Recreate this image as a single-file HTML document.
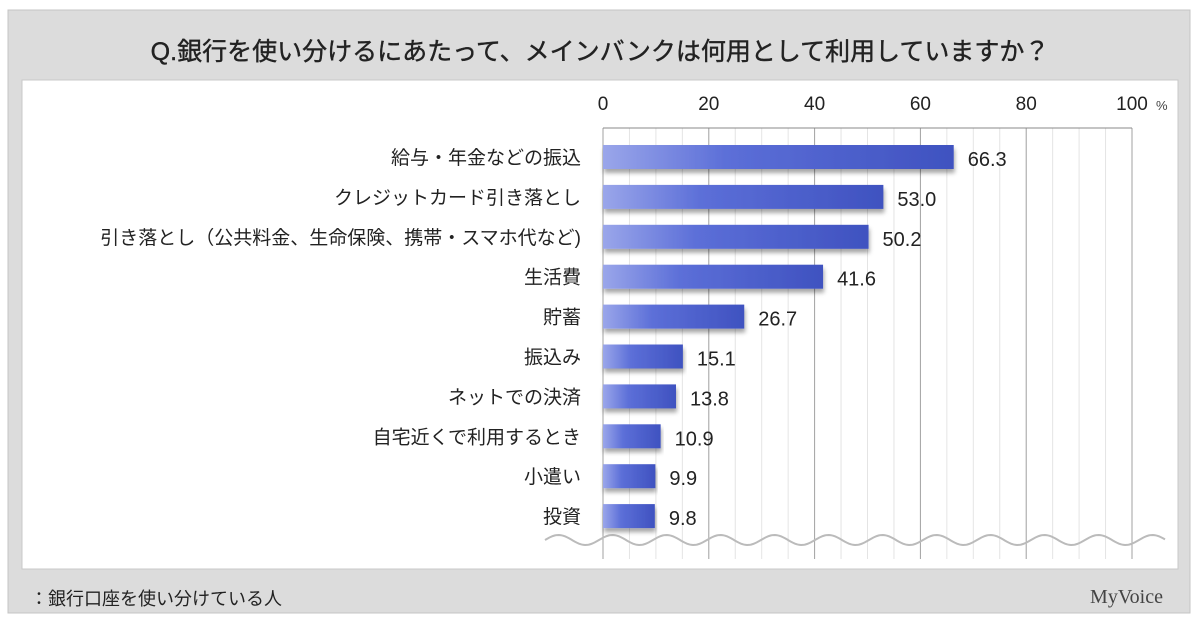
<!DOCTYPE html>
<html><head><meta charset="utf-8"><style>
body{margin:0;width:1200px;height:624px;background:#fff;overflow:hidden;font-family:"Liberation Sans","Noto Sans CJK JP",sans-serif;}
</style></head><body>
<svg width="1200" height="624">
<defs>
<linearGradient id="bg" x1="0" x2="1"><stop offset="0" stop-color="#9aa6ea"/><stop offset="0.35" stop-color="#5c6fd8"/><stop offset="1" stop-color="#3f52c0"/></linearGradient>
<filter id="sh" x="-5%" y="-20%" width="110%" height="160%"><feDropShadow dx="1" dy="4" stdDeviation="2" flood-color="#000" flood-opacity="0.35"/></filter>
</defs>
<rect x="8" y="10" width="1182" height="603" fill="#dcdcdc" stroke="#c4c4c4"/>
<rect x="22" y="80" width="1156" height="489" fill="#fff" stroke="#c8c8c8"/>
<text x="600" y="60" text-anchor="middle" font-size="25" fill="#222" stroke="#222" stroke-width="0.4">Q.銀行を使い分けるにあたって、メインバンクは何用として利用していますか？</text>
<g id="grid"></g>
<g id="bars"></g>
<text x="30" y="605" font-size="18" fill="#222">：銀行口座を使い分けている人</text>
<text x="1163" y="603" text-anchor="end" font-size="20" fill="#444" font-family="Liberation Serif, serif">MyVoice</text>
</svg>
<script>
const categories=["給与・年金などの振込","クレジットカード引き落とし","引き落とし（公共料金、生命保険、携帯・スマホ代など)","生活費","貯蓄","振込み","ネットでの決済","自宅近くで利用するとき","小遣い","投資"];
const values=[66.3,53.0,50.2,41.6,26.7,15.1,13.8,10.9,9.9,9.8];
const ticks=[0,20,40,60,80,100];
const NS="http://www.w3.org/2000/svg";
const x0=603,x1=1132,plotTop=128,plotBottom=559,y0=157,step=39.9,bh=24;
const xs=v=>x0+(x1-x0)*v/100;
const g=document.getElementById('grid'),b=document.getElementById('bars');
function mk(t,a,p){const e=document.createElementNS(NS,t);for(const k in a)e.setAttribute(k,a[k]);p.appendChild(e);return e;}
for(let v=5;v<100;v+=5){if(v%20)mk('line',{x1:xs(v),x2:xs(v),y1:plotTop,y2:plotBottom,stroke:'#e4e4e4'},g);}
ticks.forEach(v=>{
 const l=mk('line',{x1:xs(v),x2:xs(v),y1:plotTop,y2:plotBottom,stroke:'#a0a0a0'},g);
 
 
 const t=mk('text',{x:xs(v),y:110,'text-anchor':'middle','font-size':19,fill:'#222'},g);
 t.textContent=v;
 
 
});
const pc=mk('text',{x:xs(100)+24,y:110,'font-size':13,fill:'#444'},g);pc.textContent='%';


mk('line',{x1:x0,x2:x1,y1:plotTop,y2:plotTop,stroke:'#888'},g);
mk('path',{d:(()=>{let d='M545 540';for(let x=545;x<=1165;x+=2){d+=' L'+x+' '+(540-5*Math.sin((x-545)/54*2*Math.PI));}return d;})(),fill:'none',stroke:'#bbb','stroke-width':2},g);
categories.forEach((c,i)=>{
 const cy=y0+i*step;
 const r=mk('rect',{x:x0,y:cy-bh/2,width:xs(values[i])-x0,height:bh,fill:'url(#bg)',filter:'url(#sh)'},b);
 
 
 const l=mk('text',{x:581,y:cy+7,'text-anchor':'end','font-size':19,fill:'#222'},b);
 l.textContent=c;
 
 
 const v=mk('text',{x:xs(values[i])+14,y:cy+9,'font-size':20,fill:'#222'},b);
 v.textContent=values[i].toFixed(1);
 
 
});
</script>
</body></html>
